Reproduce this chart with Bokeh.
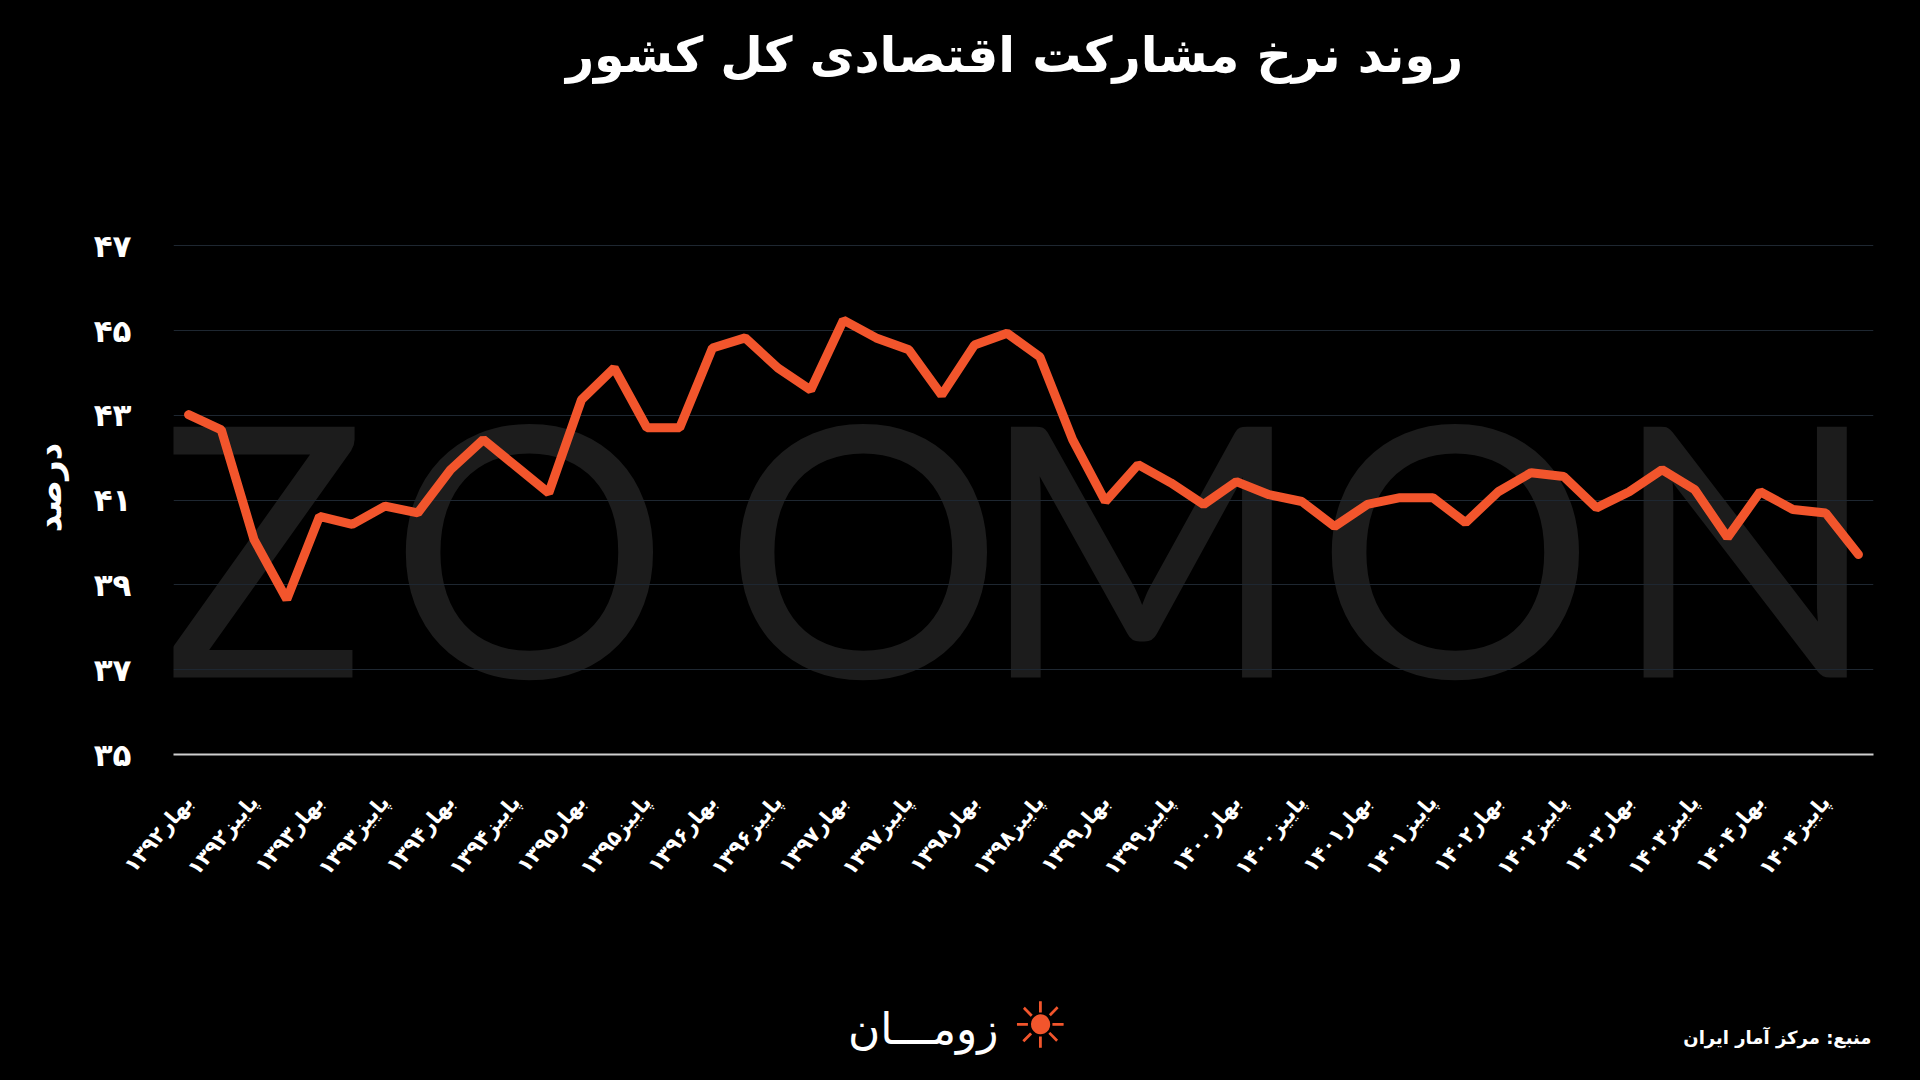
from bokeh.plotting import figure
from bokeh.models import FixedTicker, Label, Range1d, GlobalInlineStyleSheet
from bokeh.layouts import column
from bokeh.embed import file_html
from bokeh.resources import INLINE

# ---------------- data ----------------
years = [1392, 1393, 1394, 1395, 1396, 1397, 1398, 1399, 1400, 1401, 1402, 1403, 1404]
seasons = ["بهار", "تابستان", "پاییز", "زمستان"]
participation = [
    43.02, 42.66, 40.07, 38.66, 40.62, 40.43, 40.86, 40.70, 41.72, 42.43,
    41.80, 41.17, 43.37, 44.12, 42.71, 42.71, 44.59, 44.83, 44.12, 43.60,
    45.25, 44.83, 44.55, 43.48, 44.66, 44.94, 44.38, 42.43, 40.97, 41.84,
    41.41, 40.90, 41.44, 41.13, 40.97, 40.38, 40.90, 41.06, 41.06, 40.47,
    41.20, 41.65, 41.56, 40.82, 41.20, 41.72, 41.25, 40.12, 41.20, 40.78,
    40.70, 39.72,
]
y_ticks = [35, 37, 39, 41, 43, 45, 47]

title_text = "روند نرخ مشارکت اقتصادی کل کشور"
y_label = "درصد"
source_text = "منبع: مرکز آمار ایران"
logo_text = "زومـــان"
watermark = "ZOOMON"

FA = str.maketrans("0123456789", "۰۱۲۳۴۵۶۷۸۹")


def fa(n):
    return str(n).translate(FA)


quarters = [s + fa(y) for y in years for s in seasons]
xs = list(range(len(participation)))
x_ticks = [i for i in xs if i % 2 == 0]

LINE = "#F2552C"
FONT = "DejaVu Sans"
W = 1904
LEFT, RIGHT = 173, 31


def blank(height):
    # frame aligned with the main chart; x data units equal page pixels
    f = figure(width=W, height=height, x_range=Range1d(LEFT, W - RIGHT),
               y_range=Range1d(0, height),
               output_backend="svg", toolbar_location=None,
               x_axis_type=None, y_axis_type=None,
               background_fill_color=None, border_fill_color="black",
               min_border_left=LEFT, min_border_right=RIGHT,
               min_border_top=0, min_border_bottom=0)
    f.outline_line_color = None
    f.grid.visible = False
    return f


# ---------------- header ----------------
header = blank(150)
header.add_layout(Label(x=1014, y=95, text=title_text, text_font=FONT,
                        text_font_style="bold", text_font_size="49px",
                        text_color="white", text_align="center", text_baseline="middle"))

# ---------------- main chart ----------------
p = figure(
    width=W, height=835,
    x_range=Range1d(-0.46, 51.46), y_range=Range1d(35, 47.6),
    output_backend="svg", toolbar_location=None,
    background_fill_color=None, border_fill_color="black",
    min_border_left=LEFT, min_border_right=RIGHT,
    min_border_top=70, min_border_bottom=231,
)
p.outline_line_color = None

# watermark
wm_x = [2.2, 10.41, 20.61, 29.1, 38.69, 47.54]
for ch, wx in zip(watermark, wm_x):
    p.add_layout(Label(
        x=wx, y=40.0, text=ch, text_font="Lato", text_font_size="350px",
        text_color="#1c1c1c", text_align="center", text_baseline="alphabetic",
        level="image",
    ))

p.line(xs, participation, line_color=LINE, line_width=9, line_cap="round")

# axes
p.xaxis.ticker = FixedTicker(ticks=x_ticks)
p.xaxis.major_label_overrides = {i: quarters[i] for i in x_ticks}
p.xaxis.major_label_orientation = 0.87
p.xaxis.major_label_text_color = "white"
p.xaxis.major_label_text_font = FONT
p.xaxis.major_label_text_font_style = "bold"
p.xaxis.major_label_text_font_size = "21px"
p.xaxis.major_label_standoff = 38
p.xaxis.axis_line_color = "#cfcfcf"
p.xaxis.axis_line_width = 2
p.xaxis.major_tick_line_color = None
p.xaxis.minor_tick_line_color = None

p.yaxis.ticker = FixedTicker(ticks=y_ticks)
p.yaxis.major_label_overrides = {t: fa(t) for t in y_ticks}
p.yaxis.major_label_text_color = "white"
p.yaxis.major_label_text_font = FONT
p.yaxis.major_label_text_font_style = "bold"
p.yaxis.major_label_text_font_size = "31px"
p.yaxis.major_label_standoff = 36
p.yaxis.axis_line_color = None
p.yaxis.major_tick_line_color = None
p.yaxis.minor_tick_line_color = None
p.yaxis.axis_label = y_label
p.yaxis.axis_label_text_color = "white"
p.yaxis.axis_label_text_font = FONT
p.yaxis.axis_label_text_font_style = "bold"
p.yaxis.axis_label_text_font_size = "34px"
p.yaxis.axis_label_standoff = 22

p.xgrid.grid_line_color = None
p.ygrid.grid_line_color = "#1e2731"
p.ygrid.grid_line_width = 1

# ---------------- footer ----------------
footer = blank(79)
footer.add_layout(Label(x=1871, y=27, text=source_text, text_font=FONT,
                        text_font_style="bold", text_font_size="18px",
                        text_color="white", text_align="right", text_baseline="middle"))
footer.add_layout(Label(x=998, y=36, text=logo_text, text_font=FONT,
                        text_font_size="44px", text_color="white",
                        text_align="right", text_baseline="middle"))
footer.add_layout(Label(x=1040, y=39, text="☀", text_font=FONT,
                        text_font_size="64px", text_color=LINE,
                        text_align="center", text_baseline="middle"))

layout = column(header, p, footer, spacing=0)
layout.stylesheets = [GlobalInlineStyleSheet(css="html, body { background-color: #000; }")]
open("out.html", "w").write(file_html(layout, INLINE))
